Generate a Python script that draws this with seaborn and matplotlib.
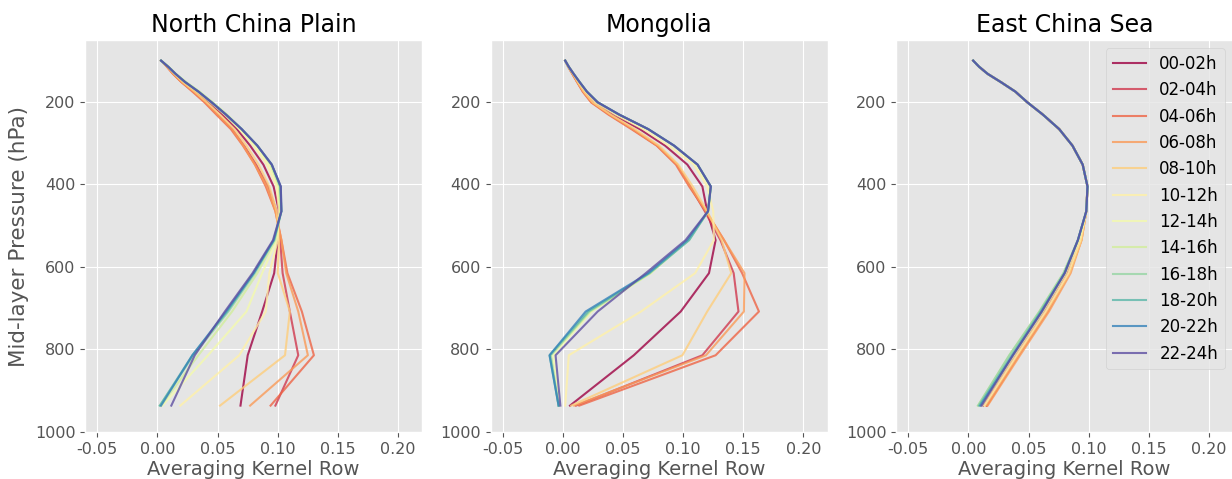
import matplotlib
matplotlib.use("Agg")
import matplotlib.pyplot as plt
import numpy as np
import pandas as pd
import seaborn as sns

# ---------------- data ----------------
PERIODS = ["00-02h", "02-04h", "04-06h", "06-08h", "08-10h", "10-12h",
           "12-14h", "14-16h", "16-18h", "18-20h", "20-22h", "22-24h"]
PRESSURE = [100, 115, 132, 152, 175, 201, 231, 266, 306, 352, 405, 465, 535, 615, 708, 814, 936]
TITLES = ["North China Plain", "Mongolia", "East China Sea"]

NCP = [
    [0.003, 0.0085, 0.014, 0.022, 0.032, 0.043, 0.054, 0.066, 0.077, 0.088, 0.0965, 0.101, 0.100, 0.097, 0.087, 0.075, 0.069],
    [0.003, 0.008, 0.013, 0.020, 0.030, 0.040, 0.050, 0.062, 0.072, 0.082, 0.092, 0.099, 0.102, 0.104, 0.110, 0.117, 0.098],
    [0.003, 0.008, 0.013, 0.020, 0.029, 0.039, 0.049, 0.061, 0.071, 0.081, 0.090, 0.098, 0.103, 0.108, 0.120, 0.130, 0.094],
    [0.003, 0.008, 0.013, 0.020, 0.030, 0.040, 0.050, 0.062, 0.0715, 0.081, 0.091, 0.098, 0.103, 0.107, 0.117, 0.125, 0.077],
    [0.003, 0.0085, 0.014, 0.021, 0.031, 0.041, 0.052, 0.064, 0.074, 0.084, 0.093, 0.099, 0.101, 0.100, 0.110, 0.106, 0.052],
    [0.003, 0.009, 0.0145, 0.0225, 0.033, 0.044, 0.056, 0.068, 0.080, 0.091, 0.099, 0.101, 0.100, 0.093, 0.090, 0.068, 0.019],
    [0.003, 0.009, 0.015, 0.023, 0.034, 0.045, 0.057, 0.069, 0.081, 0.093, 0.100, 0.102, 0.099, 0.087, 0.074, 0.042, 0.004],
    [0.003, 0.0095, 0.0155, 0.024, 0.035, 0.046, 0.058, 0.070, 0.083, 0.094, 0.101, 0.102, 0.098, 0.083, 0.062, 0.034, 0.003],
    [0.003, 0.009, 0.015, 0.023, 0.034, 0.045, 0.057, 0.070, 0.083, 0.095, 0.102, 0.103, 0.097, 0.081, 0.059, 0.030, 0.002],
    [0.003, 0.009, 0.015, 0.023, 0.034, 0.045, 0.057, 0.070, 0.083, 0.095, 0.102, 0.103, 0.097, 0.080, 0.058, 0.029, 0.002],
    [0.003, 0.009, 0.015, 0.023, 0.034, 0.045, 0.057, 0.070, 0.083, 0.095, 0.1025, 0.103, 0.0965, 0.080, 0.057, 0.029, 0.003],
    [0.003, 0.009, 0.015, 0.023, 0.034, 0.045, 0.057, 0.070, 0.083, 0.095, 0.1025, 0.103, 0.096, 0.079, 0.056, 0.031, 0.0115],
]

MONGOLIA = [
    [0.002, 0.005, 0.009, 0.013, 0.018, 0.026, 0.042, 0.064, 0.085, 0.1035, 0.116, 0.120, 0.127, 0.1215, 0.098, 0.059, 0.006],
    [0.002, 0.0045, 0.008, 0.012, 0.017, 0.024, 0.039, 0.058, 0.0786, 0.095, 0.106, 0.118, 0.131, 0.142, 0.146, 0.116, 0.011],
    [0.002, 0.0045, 0.008, 0.012, 0.0165, 0.0235, 0.038, 0.057, 0.078, 0.094, 0.105, 0.119, 0.134, 0.149, 0.163, 0.127, 0.0137],
    [0.002, 0.0045, 0.008, 0.012, 0.017, 0.024, 0.039, 0.058, 0.0786, 0.095, 0.106, 0.119, 0.134, 0.151, 0.1505, 0.119, 0.0095],
    [0.002, 0.0045, 0.0085, 0.0125, 0.0175, 0.025, 0.040, 0.060, 0.080, 0.096, 0.108, 0.120, 0.132, 0.140, 0.120, 0.0994, 0.007],
    [0.002, 0.005, 0.009, 0.0135, 0.019, 0.027, 0.044, 0.067, 0.088, 0.109, 0.120, 0.125, 0.1256, 0.110, 0.065, 0.005, 0.002],
    [0.002, 0.005, 0.009, 0.014, 0.020, 0.029, 0.047, 0.071, 0.092, 0.111, 0.122, 0.121, 0.104, 0.073, 0.024, -0.008, -0.003],
    [0.002, 0.005, 0.009, 0.014, 0.020, 0.029, 0.047, 0.071, 0.0925, 0.112, 0.123, 0.121, 0.104, 0.073, 0.023, -0.010, -0.0035],
    [0.002, 0.005, 0.009, 0.014, 0.020, 0.029, 0.047, 0.071, 0.0925, 0.112, 0.123, 0.1207, 0.105, 0.072, 0.022, -0.010, -0.0035],
    [0.002, 0.005, 0.009, 0.014, 0.020, 0.029, 0.047, 0.071, 0.0925, 0.112, 0.123, 0.1207, 0.105, 0.072, 0.021, -0.011, -0.0035],
    [0.002, 0.005, 0.009, 0.014, 0.020, 0.029, 0.047, 0.071, 0.0925, 0.112, 0.123, 0.1207, 0.1035, 0.071, 0.019, -0.011, -0.0035],
    [0.002, 0.005, 0.009, 0.014, 0.020, 0.029, 0.047, 0.071, 0.0925, 0.112, 0.123, 0.1207, 0.102, 0.069, 0.029, -0.006, -0.002],
]

ECS = [
    [0.004, 0.009, 0.016, 0.027, 0.039, 0.049, 0.062, 0.0755, 0.0865, 0.095, 0.099, 0.098, 0.092, 0.0815, 0.063, 0.039, 0.0125],
    [0.004, 0.009, 0.016, 0.027, 0.039, 0.049, 0.062, 0.0755, 0.0865, 0.095, 0.099, 0.098, 0.093, 0.083, 0.065, 0.041, 0.015],
    [0.004, 0.009, 0.016, 0.027, 0.039, 0.049, 0.062, 0.0755, 0.0865, 0.095, 0.099, 0.098, 0.094, 0.084, 0.066, 0.042, 0.0155],
    [0.004, 0.009, 0.016, 0.027, 0.039, 0.049, 0.062, 0.0755, 0.0865, 0.095, 0.099, 0.098, 0.094, 0.085, 0.067, 0.043, 0.016],
    [0.004, 0.009, 0.016, 0.027, 0.039, 0.049, 0.062, 0.0755, 0.0865, 0.095, 0.099, 0.098, 0.094, 0.084, 0.065, 0.041, 0.014],
    [0.004, 0.009, 0.016, 0.027, 0.039, 0.049, 0.062, 0.0755, 0.0865, 0.095, 0.099, 0.098, 0.093, 0.083, 0.064, 0.040, 0.013],
    [0.004, 0.009, 0.016, 0.027, 0.039, 0.049, 0.062, 0.0755, 0.0865, 0.095, 0.099, 0.098, 0.092, 0.081, 0.062, 0.038, 0.011],
    [0.004, 0.009, 0.016, 0.027, 0.039, 0.049, 0.062, 0.0755, 0.0865, 0.095, 0.099, 0.098, 0.091, 0.079, 0.059, 0.034, 0.008],
    [0.004, 0.009, 0.016, 0.027, 0.039, 0.049, 0.062, 0.0755, 0.0865, 0.095, 0.099, 0.098, 0.091, 0.079, 0.059, 0.034, 0.008],
    [0.004, 0.009, 0.016, 0.027, 0.039, 0.049, 0.062, 0.0755, 0.0865, 0.095, 0.099, 0.098, 0.091, 0.080, 0.060, 0.036, 0.009],
    [0.004, 0.009, 0.016, 0.027, 0.039, 0.049, 0.062, 0.0755, 0.0865, 0.095, 0.099, 0.098, 0.091, 0.080, 0.061, 0.037, 0.010],
    [0.004, 0.009, 0.016, 0.027, 0.039, 0.049, 0.062, 0.0755, 0.0865, 0.095, 0.099, 0.098, 0.091, 0.080, 0.061, 0.037, 0.011],
]

X_TICKS = [-0.05, 0.00, 0.05, 0.10, 0.15, 0.20]
Y_TICKS = [200, 400, 600, 800, 1000]

# ---------------- plotting ----------------
plt.style.use("ggplot")
cmap = plt.get_cmap("Spectral")
palette = [cmap(x) for x in np.linspace(0, 1, len(PERIODS))]

fig = plt.figure(figsize=(12.32, 4.79), dpi=100)
lefts = [0.0692, 0.3982, 0.7274]

for i, (title, rows) in enumerate(zip(TITLES, [NCP, MONGOLIA, ECS])):
    ax = fig.add_axes([lefts[i], 0.0981, 0.2735, 0.8184])
    recs = []
    for period, vals in zip(PERIODS, rows):
        for p, v in zip(PRESSURE, vals):
            recs.append({"period": period, "pressure": p, "value": v})
    df = pd.DataFrame(recs)
    sns.lineplot(data=df, x="value", y="pressure", hue="period", hue_order=PERIODS,
                 palette=palette, sort=False, estimator=None, ax=ax,
                 linewidth=1.5, alpha=0.8, legend=(i == 2))
    ax.set_xlim(-0.06, 0.22)
    ax.set_ylim(1000, 50)
    ax.set_xticks(X_TICKS)
    ax.set_xticklabels([f"{t:.2f}" for t in X_TICKS])
    ax.set_yticks(Y_TICKS)
    ax.tick_params(labelsize=11.5, colors="#555555")
    ax.set_title(title, fontsize=17, color="black")
    ax.set_xlabel("Averaging Kernel Row", fontsize=14, color="#555555", labelpad=2)
    if i == 0:
        ax.set_ylabel("Mid-layer Pressure (hPa)", fontsize=15.5, color="#555555")
    else:
        ax.set_ylabel("")
    if i == 2:
        handles, labels = ax.get_legend_handles_labels()
        ax.legend(handles, labels, loc="upper right", fontsize=12,
                  facecolor="#E5E5E5", edgecolor="#cccccc", framealpha=0.8)

fig.savefig("out.png", dpi=100)
